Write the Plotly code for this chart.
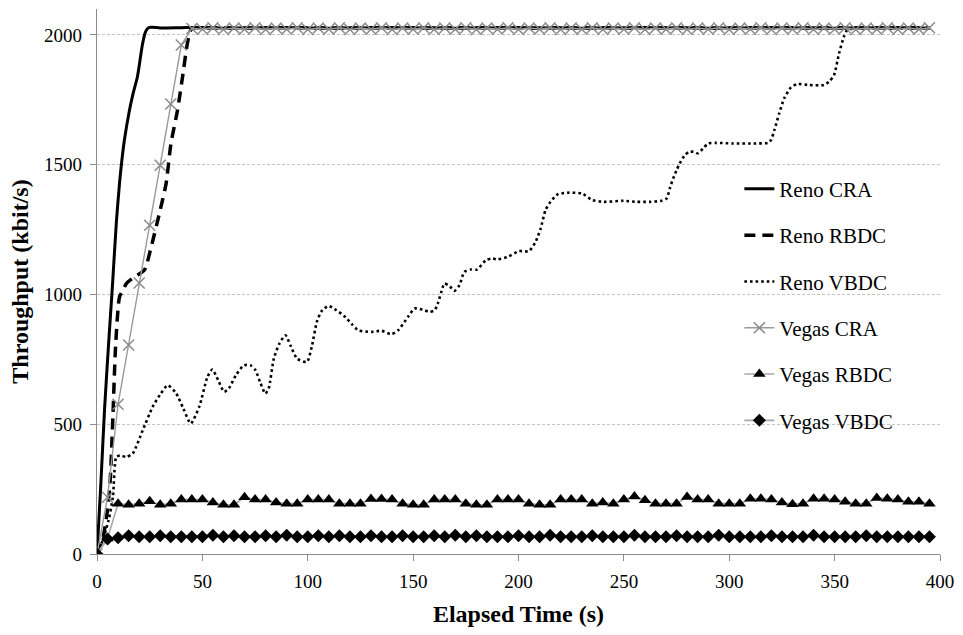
import plotly.graph_objects as go

# ---- Reno (smoothed curves, irregular sample times) ----
reno_cra_t = [0, 1.7, 3.6, 5.5, 7.3, 9.2, 10.7, 11.5, 13, 15.4, 17, 19.2, 21.6, 23, 24.4, 26,
              30, 40, 50, 60, 70, 80, 90, 100, 110, 120, 130, 140, 150, 160, 170, 180, 190,
              200, 210, 220, 230, 240, 250, 260, 270, 280, 290, 300, 310, 320, 330, 340,
              350, 360, 370, 380, 390, 395]
reno_cra_v = [0, 250, 560, 810, 1030, 1280, 1430, 1495, 1595, 1710, 1770, 1840, 1965, 2012, 2028, 2030,
              2027, 2028, 2029, 2026, 2028, 2027, 2029, 2027, 2026, 2028, 2027, 2029, 2027, 2028, 2026,
              2028, 2027, 2029, 2027, 2028, 2026, 2028, 2027, 2029, 2027, 2028, 2026, 2028, 2027,
              2029, 2027, 2028, 2026, 2028, 2027, 2028, 2027, 2027]

reno_rbdc_t = [0, 3, 5, 6.3, 7.6, 8.8, 10.7, 12.3, 13.9, 17.8, 22.5, 25.7, 29.6, 32.8, 35.1,
               38.2, 40.6, 42.9, 44.7, 47, 50, 60, 70, 80, 90, 100, 110, 120, 130, 140, 150,
               160, 170, 180, 190, 200, 210, 220, 230, 240, 250, 260, 270, 280, 290, 300, 310,
               320, 330, 340, 350, 360, 370, 380, 390, 395]
reno_rbdc_v = [0, 70, 170, 290, 541, 798, 991, 1015, 1042, 1068, 1094, 1183, 1312, 1428, 1582,
               1710, 1839, 1968, 2022, 2028, 2027, 2028, 2026, 2028, 2027, 2028, 2027, 2026, 2028,
               2027, 2028, 2026, 2028, 2027, 2028, 2027, 2026, 2028, 2027, 2028, 2026, 2028,
               2027, 2028, 2027, 2026, 2028, 2027, 2028, 2026, 2028, 2027, 2028, 2027, 2028, 2027]

reno_vbdc_t = [0, 3, 5.5, 7.55, 9.15, 11, 13.9, 17.0, 21.7, 26.4, 30, 33.5, 37.5, 41, 44.5, 48.5,
               52.4, 54.7, 57.5, 60.3, 62.6, 66, 69.7, 72.9, 75.2, 77.5, 79.9, 81.5, 83.9, 86.5,
               89.4, 92, 94.9, 99.6, 101.9, 104.3, 106.5, 109.8, 113.5, 117.7, 121, 124, 130.3,
               135, 139.7, 142.9, 147.6, 150.7, 155.5, 157.8, 160.2, 161.7, 164.1, 164.9, 167.3,
               169.6, 172, 174.3, 177.4, 180.3, 184.5, 187.7, 190, 194.8, 200.3, 205, 208.1,
               210.5, 212.8, 215.2, 218.4, 223.1, 230.2, 234.9, 240.4, 249.8, 256.1, 262.4,
               267.9, 270.3, 271.8, 273.4, 275, 276.5, 278.9, 281, 283, 285.2, 287.6, 290,
               293.8, 301.7, 312.7, 318.3, 319.8, 321.4, 323.7, 326.1, 329.3, 332.4, 337.9,
               344.9, 347.3, 349.7, 352.1, 354.4, 356, 360, 370, 380, 390, 395]
reno_vbdc_v = [0, 60, 130, 220, 374, 380, 374, 388, 477, 567, 615, 650, 620, 560, 503, 567,
               682, 711, 670, 625, 639, 690, 727, 727, 708, 660, 618, 639, 753, 810,
               843, 800, 753, 740, 798, 894, 935, 956, 940, 914, 885, 862, 856,
               860, 847, 862, 914, 946, 939, 933, 939, 965, 1029, 1042, 1032,
               1014, 1036, 1087, 1096, 1096, 1132, 1139, 1135, 1145, 1167, 1167, 1203,
               1254, 1325, 1357, 1385, 1392, 1389, 1364, 1357, 1361, 1357, 1357,
               1361, 1370, 1409, 1447, 1479, 1505, 1537, 1550, 1550, 1544, 1563, 1582,
               1584, 1582, 1582, 1584, 1595, 1633, 1698, 1756, 1798, 1811, 1807,
               1807, 1820, 1845, 1929, 1993, 2019, 2025, 2026, 2024, 2026, 2025]

# ---- Vegas (sampled every 5 s) ----
vegas_t = list(range(0, 400, 5))
vegas_cra_v = [0, 219, 577, 805, 1044, 1267, 1498, 1734, 1961, 2025,
               2022, 2028, 2021, 2027, 2022, 2028, 2021, 2027, 2022, 2028,
               2021, 2027, 2022, 2028, 2021, 2027, 2022, 2028, 2021, 2027,
               2022, 2028, 2021, 2027, 2022, 2028, 2021, 2027, 2022, 2028,
               2021, 2027, 2022, 2028, 2021, 2027, 2022, 2028, 2021, 2027,
               2022, 2028, 2021, 2027, 2022, 2028, 2021, 2027, 2022, 2028,
               2021, 2027, 2022, 2028, 2021, 2027, 2022, 2028, 2021, 2027,
               2022, 2028, 2021, 2027, 2022, 2028, 2021, 2027, 2022, 2028]
vegas_rbdc_v = [0, 60,
                194, 190, 194, 203, 190, 194, 210, 210, 210, 198, 190, 190, 219,
                210, 210, 198, 194, 194, 210, 210, 210, 194, 194, 194, 212, 212,
                210, 194, 190, 190, 210, 210, 210, 194, 190, 190, 210, 210, 210,
                194, 190, 190, 210, 210, 210, 194, 198, 194, 210, 222, 207,
                194, 194, 194, 220, 210, 210, 194, 194, 194, 213, 213, 210, 198,
                192, 194, 213, 213, 210, 201, 194, 194, 216, 213, 210, 201, 201, 194]
vegas_vbdc_v = [0, 58, 63, 70, 66, 66, 70, 66, 66, 66, 66, 72, 66, 70, 66, 66,
                70, 66, 72, 66, 66, 70, 66, 70, 66, 66, 70, 66, 66, 70,
                66, 66, 70, 66, 72, 66, 70, 66, 66, 66, 70, 66, 66, 72,
                66, 66, 66, 70, 66, 66, 66, 72, 66, 66, 66, 70, 66, 66,
                66, 72, 66, 66, 66, 66, 70, 66, 66, 66, 72, 66, 66, 66,
                66, 70, 66, 66, 66, 66, 66, 66]

FONT = "Liberation Serif, Times New Roman, serif"

fig = go.Figure()

fig.add_trace(go.Scatter(
    x=reno_cra_t, y=reno_cra_v, name="Reno CRA", mode="lines", legendgroup="a",
    line=dict(color="black", width=3, shape="spline", smoothing=0.6)))
fig.add_trace(go.Scatter(
    x=reno_rbdc_t, y=reno_rbdc_v, name="Reno RBDC", mode="lines", legendgroup="b",
    line=dict(color="black", width=3.5, dash="11px,7px", shape="spline", smoothing=0.6)))
fig.add_trace(go.Scatter(
    x=reno_vbdc_t, y=reno_vbdc_v, name="Reno VBDC", mode="lines", legendgroup="c",
    line=dict(color="black", width=2.6, dash="2.6px,3px", shape="spline", smoothing=0.6)))
fig.add_trace(go.Scatter(
    x=vegas_t, y=vegas_cra_v, name="Vegas CRA", mode="lines+markers", legendgroup="d",
    line=dict(color="#9a9a9a", width=1.4),
    marker=dict(symbol="x-thin", size=11, color="#8a8a8a",
                line=dict(color="#8a8a8a", width=1.5))))
fig.add_trace(go.Scatter(
    x=vegas_t, y=vegas_rbdc_v, name="Vegas RBDC", mode="lines+markers", legendgroup="e",
    line=dict(color="#a8a8a8", width=1.6),
    marker=dict(symbol="triangle-up", size=11, color="black")))
fig.add_trace(go.Scatter(
    x=vegas_t, y=vegas_vbdc_v, name="Vegas VBDC", mode="lines+markers", legendgroup="f",
    line=dict(color="#a8a8a8", width=1.6),
    marker=dict(symbol="diamond", size=10, color="black")))

fig.update_layout(
    width=963, height=635,
    margin=dict(l=97, r=18, t=9, b=81, pad=0),
    paper_bgcolor="white", plot_bgcolor="white",
    font=dict(family=FONT, size=19, color="black"),
    showlegend=True,
    legend=dict(
        x=0.762, y=0.707, xanchor="left", yanchor="top",
        traceorder="grouped", tracegroupgap=16,
        font=dict(family=FONT, size=21, color="black"),
        bgcolor="rgba(0,0,0,0)", borderwidth=0,
    ),
)

fig.update_xaxes(
    range=[0, 400], tickvals=[0, 50, 100, 150, 200, 250, 300, 350, 400],
    showline=True, linecolor="#8c8c8c", linewidth=1.3,
    ticks="outside", ticklen=6, tickcolor="#8c8c8c", tickwidth=1.3,
    ticklabelstandoff=4,
    showgrid=False, zeroline=False,
    tickfont=dict(family=FONT, size=19, color="black"),
    title=dict(text="Elapsed Time (s)", standoff=14,
               font=dict(family=FONT, size=24, weight="bold")),
)
fig.update_yaxes(
    range=[0, 2100], tickvals=[0, 500, 1000, 1500, 2000],
    showline=True, linecolor="#8c8c8c", linewidth=1.3,
    ticks="outside", ticklen=6, tickcolor="#8c8c8c", tickwidth=1.3,
    ticklabelstandoff=4,
    showgrid=True, gridcolor="#c4c4c4", gridwidth=1, griddash="3px,2px",
    zeroline=False,
    tickfont=dict(family=FONT, size=19, color="black"),
    title=dict(text="Throughput (kbit/s)", standoff=8,
               font=dict(family=FONT, size=24, weight="bold")),
)

fig.write_html("out.html")
